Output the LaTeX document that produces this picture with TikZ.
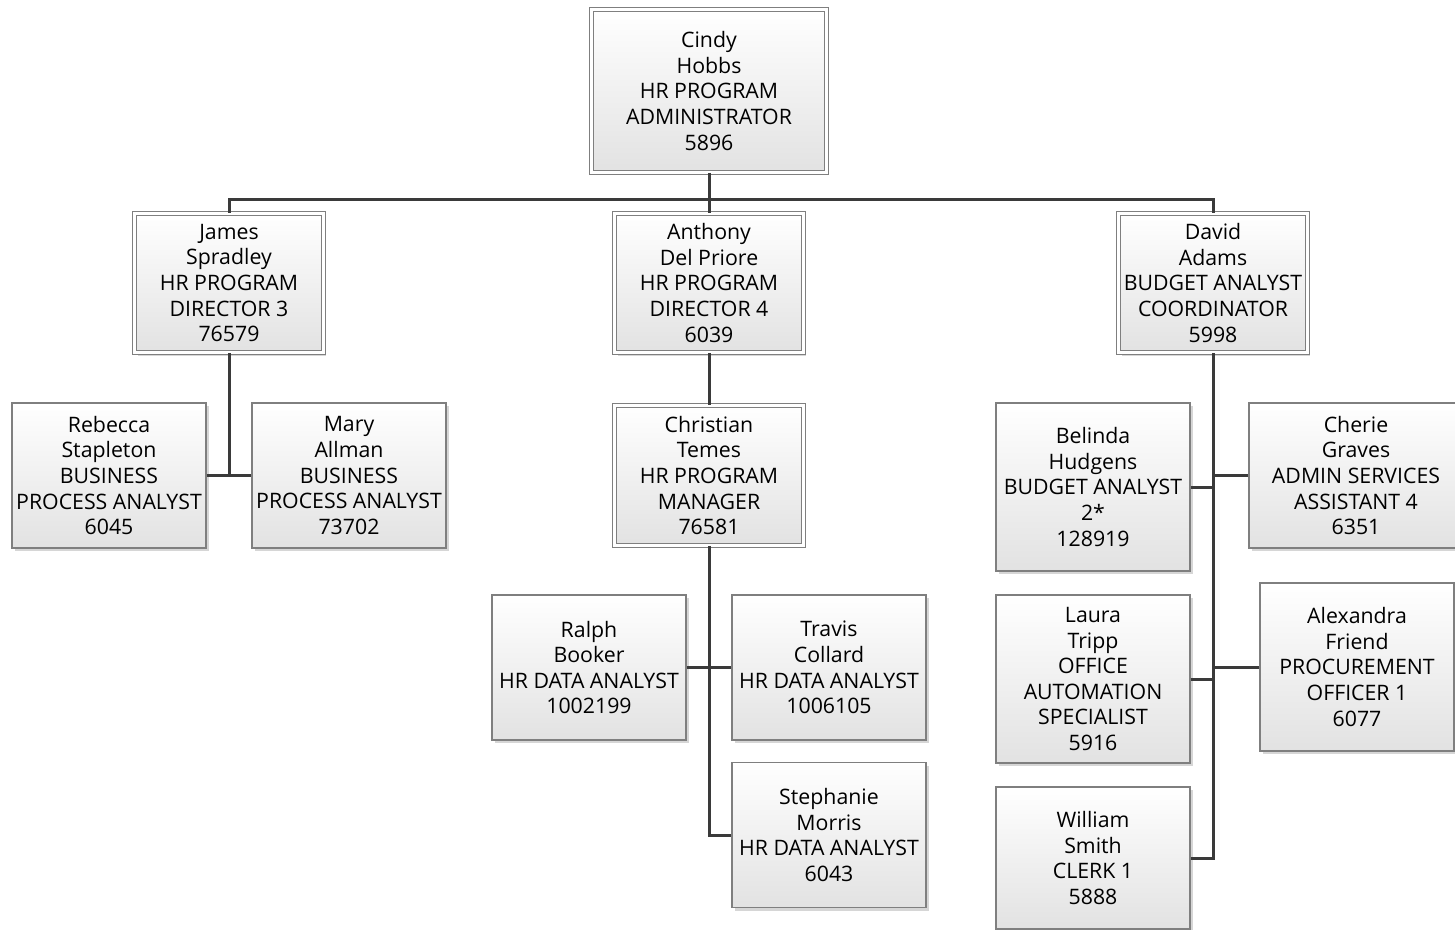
\documentclass[tikz,border=0pt]{standalone}
\usepackage{fontspec}
\setmainfont{Open Sans}
\usetikzlibrary{shadows}
\definecolor{conncol}{HTML}{3A3A3A}
\definecolor{boxline}{HTML}{7F7F7F}
\definecolor{boxbot}{HTML}{E2E2E2}
\begin{document}
\begin{tikzpicture}[x=1pt,y=-1pt,
  person/.style={draw=boxline, line width=1.1pt, top color=white, bottom color=boxbot,
    align=center, inner sep=0pt, minimum width=194pt, minimum height=145pt,
    font=\fontsize{21.3}{25.6}\selectfont,
    drop shadow={shadow xshift=3pt, shadow yshift=-3pt, fill=black, opacity=0.16}},
  tall/.style={minimum height=168pt},
  mgr/.style={person, double=white, double distance=3.4pt, line width=1pt,
    minimum width=188.5pt, minimum height=139.5pt},
  conn/.style={draw=conncol, line width=3pt}]
\useasboundingbox (0,0) rectangle (1455,929);
% top
\node[mgr, minimum width=234.5pt, minimum height=162.5pt] (cindy) at (709,91) {Cindy\\Hobbs\\HR PROGRAM\\ADMINISTRATOR\\5896};
\node[mgr] (james) at (229,283) {James\\Spradley\\HR PROGRAM\\DIRECTOR 3\\76579};
\node[mgr] (anthony) at (709,283) {Anthony\\Del Priore\\HR PROGRAM\\DIRECTOR 4\\6039};
\node[mgr] (david) at (1213,283) {David\\Adams\\BUDGET ANALYST\\COORDINATOR\\5998};
% James
\node[person] (rebecca) at (109,475.5) {Rebecca\\Stapleton\\BUSINESS\\PROCESS ANALYST\\6045};
\node[person] (mary) at (349,475.5) {Mary\\Allman\\BUSINESS\\PROCESS ANALYST\\73702};
% Anthony
\node[mgr] (christian) at (709,475.5) {Christian\\Temes\\HR PROGRAM\\MANAGER\\76581};
\node[person] (ralph) at (589,667.5) {Ralph\\Booker\\HR DATA ANALYST\\1002199};
\node[person] (travis) at (829,667.5) {Travis\\Collard\\HR DATA ANALYST\\1006105};
\node[person] (stephanie) at (829,835) {Stephanie\\Morris\\HR DATA ANALYST\\6043};
% David
\node[person, tall] (belinda) at (1093,487) {Belinda\\Hudgens\\BUDGET ANALYST\\2*\\128919};
\node[person, minimum width=214pt] (cherie) at (1356,475.5) {Cherie\\Graves\\ADMIN SERVICES\\ASSISTANT 4\\6351};
\node[person, tall] (laura) at (1093,679) {Laura\\Tripp\\OFFICE\\AUTOMATION\\SPECIALIST\\5916};
\node[person, tall] (alexandra) at (1357,667) {Alexandra\\Friend\\PROCUREMENT\\OFFICER 1\\6077};
\node[person, minimum height=142pt] (william) at (1093,858) {William\\Smith\\CLERK 1\\5888};
% connectors
\coordinate (bus) at (709,199);
\draw[conn] (cindy.south) -- (bus);
\draw[conn] (bus) -| (james.north);
\draw[conn] (bus) -| (david.north);
\draw[conn] (bus) -- (anthony.north);
\draw[conn] (james.south) -- (james.south |- rebecca.east);
\draw[conn] (rebecca.east) -- (mary.west);
\draw[conn] (anthony.south) -- (christian.north);
\draw[conn] (christian.south) |- (stephanie.west);
\draw[conn] (ralph.east) -- (travis.west);
\draw[conn] (david.south) |- (william.east);
\draw[conn] (belinda.east) -- (david.south |- belinda.east);
\draw[conn] (cherie.west) -- (david.south |- cherie.west);
\draw[conn] (laura.east) -- (david.south |- laura.east);
\draw[conn] (alexandra.west) -- (david.south |- alexandra.west);
\end{tikzpicture}
\end{document}
